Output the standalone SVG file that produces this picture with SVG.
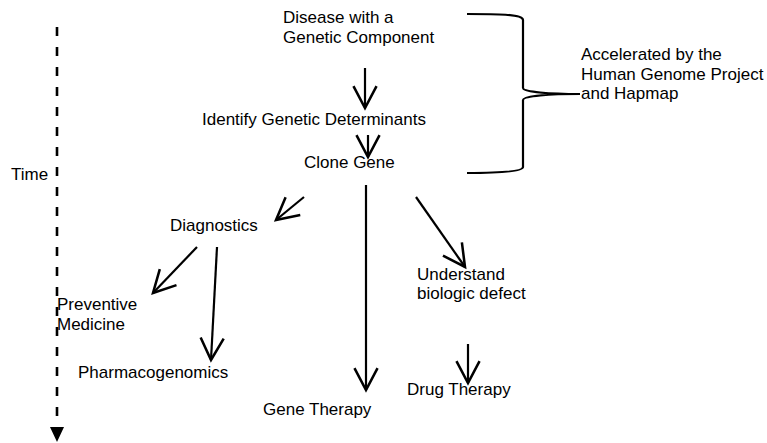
<svg xmlns="http://www.w3.org/2000/svg" width="767" height="443" viewBox="0 0 767 443">
<style>
text{font-family:"Liberation Sans",Arial,sans-serif;font-size:17px;fill:#000}
.c{fill:none;stroke:#000;stroke-width:2.2}
</style>
<defs>
<marker id="open" markerUnits="userSpaceOnUse" markerWidth="30" markerHeight="30" viewBox="-22 -12 26 24" refX="0" refY="0" orient="auto">
<path d="M-19,-10 L0,0 L-19,10" fill="none" stroke="#000" stroke-width="2.2"/>
</marker>
<marker id="solid" markerUnits="userSpaceOnUse" markerWidth="20" markerHeight="20" viewBox="-16 -8 18 16" refX="0" refY="0" orient="auto">
<path d="M-15,-7 L0,0 L-15,7 Z" fill="#000"/>
</marker>
</defs>
<rect width="767" height="443" fill="#fff"/>
<g id="time">
<line x1="57" y1="27" x2="57" y2="420" stroke="#000" stroke-width="2.6" stroke-dasharray="9,11"/>
<path d="M50,427 L64,427 L57,442 Z" fill="#000"/>
<text x="11" y="180">Time</text>
</g>
<g id="disease"><text x="283" y="23">Disease with a</text><text x="283" y="43">Genetic Component</text></g>
<g id="identify"><text x="202" y="125">Identify Genetic Determinants</text></g>
<g id="clone"><text x="304" y="168">Clone Gene</text></g>
<g id="accelerated"><text x="581" y="60">Accelerated by the</text><text x="581" y="80">Human Genome Project</text><text x="581" y="99">and Hapmap</text></g>
<g id="diagnostics"><text x="170" y="231">Diagnostics</text></g>
<g id="preventive"><text x="57" y="310">Preventive</text><text x="57" y="330">Medicine</text></g>
<g id="pharmaco"><text x="78" y="378">Pharmacogenomics</text></g>
<g id="genetherapy"><text x="263" y="415">Gene Therapy</text></g>
<g id="understand"><text x="417" y="280">Understand</text><text x="417" y="299">biologic defect</text></g>
<g id="drugtherapy"><text x="407" y="395">Drug Therapy</text></g>
<g id="connectors">
<path class="c" d="M467,14 C495,14 523,14 523,20 L523,88 C523,92 550,94 580,94 C550,94 523,96 523,100 L523,167 C523,172 495,173 467,173"/>
<line class="c" x1="365" y1="68" x2="365" y2="108" marker-end="url(#open)"/>
<line class="c" x1="368" y1="135" x2="368" y2="157" marker-end="url(#open)"/>
<line class="c" x1="366" y1="185" x2="366" y2="390" marker-end="url(#open)"/>
<line class="c" x1="304" y1="197" x2="276" y2="220" marker-end="url(#open)"/>
<line class="c" x1="416" y1="197" x2="465" y2="267" marker-end="url(#open)"/>
<line class="c" x1="468" y1="344" x2="468" y2="383" marker-end="url(#open)"/>
<line class="c" x1="197" y1="247" x2="153" y2="293" marker-end="url(#open)"/>
<line class="c" x1="217" y1="247" x2="211" y2="360" marker-end="url(#open)"/>
</g>
</svg>
